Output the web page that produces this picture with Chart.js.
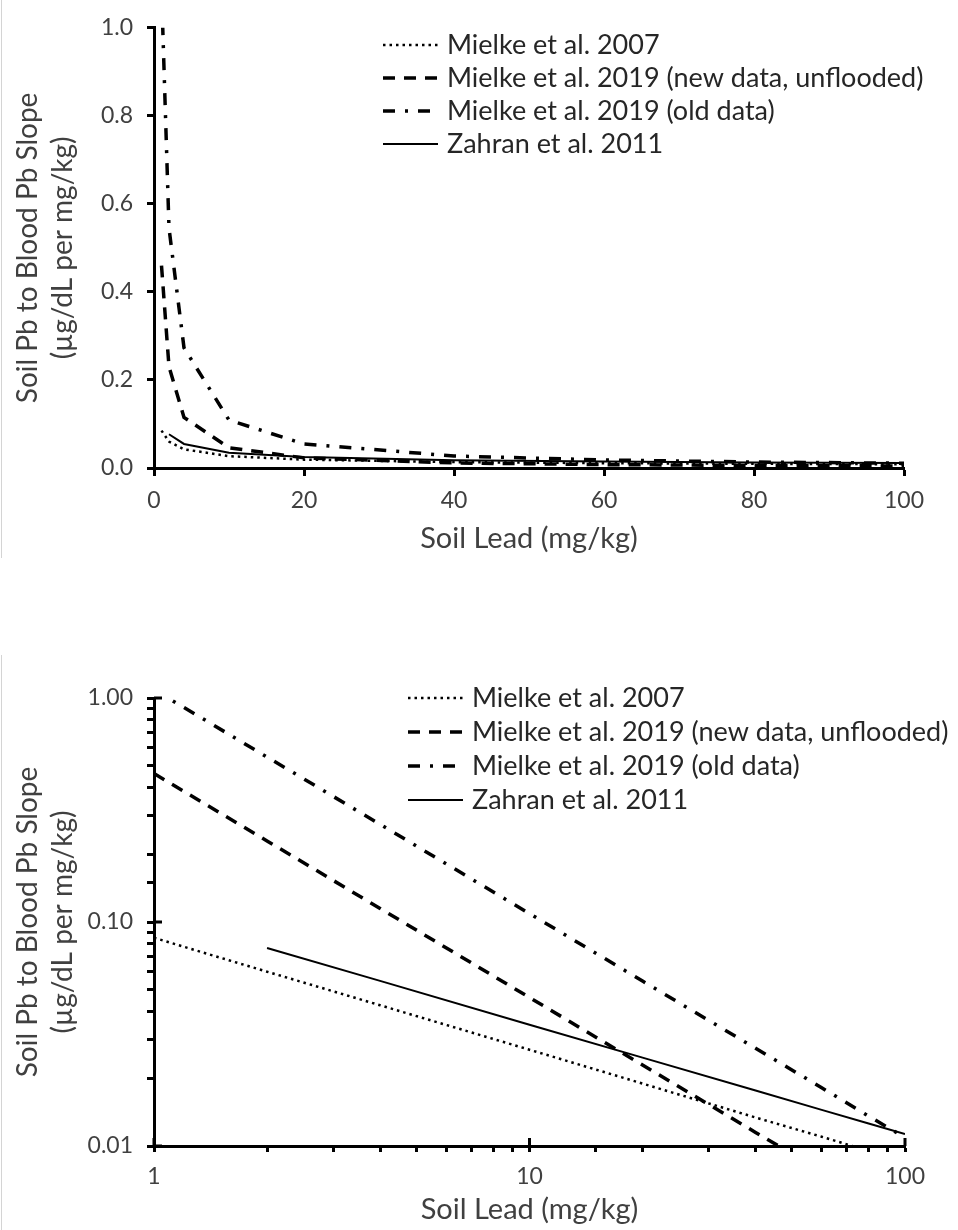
<!DOCTYPE html>
<html>
<head>
<meta charset="utf-8">
<title>Soil Pb to Blood Pb Slope</title>
<script src="https://cdn.jsdelivr.net/npm/chart.js@4.4.1/dist/chart.umd.min.js"></script>
<style>
  body { margin: 0; background: #fff; }
  .panel { position: absolute; left: 0; width: 958px; }
  .edge { position: absolute; left: 1px; width: 1px; background: #d4d4d4; }
</style>
</head>
<body>
<div class="edge" style="top:0;height:558px"></div>
<div class="panel" style="top:0;height:558px"><canvas id="linearChart" width="958" height="558"></canvas></div>
<div class="edge" style="top:655px;height:575px"></div>
<div class="panel" style="top:655px;height:575px"><canvas id="logChart" width="958" height="575"></canvas></div>

<script>
// Soil lead (mg/kg) and modelled slope (ug/dL per mg/kg) for each study
const soilLead = [1, 2, 4, 10, 20, 40, 60, 80, 100];
const mielke2007 = [0.085, 0.060, 0.0425, 0.0269, 0.0190, 0.0134, 0.0110, 0.0095, 0.0085];
const mielke2019New = [0.46, 0.23, 0.115, 0.046, 0.023, 0.0115, 0.0077, 0.0058, 0.0046];
const mielke2019Old = [1.09, 0.545, 0.273, 0.109, 0.0545, 0.0273, 0.0182, 0.0136, 0.0109];
const zahran2011 = [null, 0.0766, 0.0546, 0.0348, 0.0248, 0.0177, 0.0145, 0.0126, 0.0113];

const seriesLabels = [
    'Mielke et al. 2007',
    'Mielke et al. 2019 (new data, unflooded)',
    'Mielke et al. 2019 (old data)',
    'Zahran et al. 2011'
];

const xTitle = 'Soil Lead (mg/kg)';
const yTitle = ['Soil Pb to Blood Pb Slope', '(\u00b5g/dL per mg/kg)'];

Chart.defaults.font.family = 'Lato, "Open Sans", sans-serif';
Chart.defaults.color = '#404040';

function points(values) {
    return soilLead.map((x, i) => ({ x: x, y: values[i] })).filter(p => p.y !== null);
}

function buildDatasets() {
    const styles = [
        { borderWidth: 2.5, borderDash: [2.5, 4] },
        { borderWidth: 3.5, borderDash: [12, 9] },
        { borderWidth: 3.5, borderDash: [12, 10, 3, 10] },
        { borderWidth: 2, borderDash: [] }
    ];
    return [mielke2007, mielke2019New, mielke2019Old, zahran2011].map((vals, i) => ({
        label: seriesLabels[i],
        data: points(vals),
        borderColor: '#000',
        borderWidth: styles[i].borderWidth,
        borderDash: styles[i].borderDash,
        borderCapStyle: 'butt',
        pointRadius: 0,
        fill: false,
        tension: 0
    }));
}

// Legend drawn as line samples next to text, inside the plot
const lineLegend = {
    id: 'lineLegend',
    afterDraw(chart, args, opts) {
        const ctx = chart.ctx;
        chart.data.datasets.forEach((ds, i) => {
            const y = opts.top + i * opts.step;
            ctx.save();
            ctx.strokeStyle = ds.borderColor;
            ctx.lineWidth = ds.borderWidth;
            ctx.setLineDash(ds.borderDash);
            ctx.beginPath();
            ctx.moveTo(opts.x0, y);
            ctx.lineTo(opts.x1, y);
            ctx.stroke();
            ctx.setLineDash([]);
            ctx.fillStyle = '#262626';
            ctx.font = opts.font;
            ctx.textBaseline = 'middle';
            ctx.fillText(ds.label, opts.textX, y);
            ctx.restore();
        });
    }
};

// Major ticks on the log axes cross into the plot as well
const innerTicks = {
    id: 'innerTicks',
    afterDraw(chart, args, opts) {
        if (!opts.enabled) return;
        const ctx = chart.ctx;
        const area = chart.chartArea;
        const xs = chart.scales.x, ys = chart.scales.y;
        ctx.save();
        ctx.strokeStyle = '#000';
        ctx.lineWidth = 3;
        ctx.beginPath();
        opts.xMajor.forEach(v => {
            const px = xs.getPixelForValue(v);
            ctx.moveTo(px, area.bottom);
            ctx.lineTo(px, area.bottom - opts.len);
        });
        opts.yMajor.forEach(v => {
            const py = ys.getPixelForValue(v);
            ctx.moveTo(area.left, py);
            ctx.lineTo(area.left + opts.len, py);
        });
        ctx.stroke();
        ctx.restore();
    }
};

function isPowerOfTen(v) {
    const l = Math.log10(v);
    return Math.abs(l - Math.round(l)) < 1e-9;
}

function axisOptions(kind, cfg) {
    const log = kind === 'logarithmic';
    return {
        x: {
            type: kind,
            min: log ? 1 : 0,
            max: 100,
            afterFit: s => { s.height = cfg.xHeight; },
            border: { display: true, color: '#000', width: 3 },
            grid: { display: true, drawOnChartArea: false, drawTicks: true, tickLength: cfg.xTick, tickWidth: 3, tickColor: '#000' },
            ticks: {
                autoSkip: false,
                maxRotation: 0,
                padding: 11,
                stepSize: log ? undefined : 20,
                font: { size: 23 },
                color: '#404040',
                callback: v => log ? (isPowerOfTen(v) ? String(Math.round(v)) : '') : String(v)
            },
            title: { display: true, text: xTitle, font: { size: 29 }, color: '#404040', padding: { top: 0, bottom: cfg.xTitlePad } }
        },
        y: {
            type: kind,
            min: log ? 0.01 : 0,
            max: 1,
            afterFit: s => { s.width = 154; },
            border: { display: true, color: '#000', width: 3 },
            grid: { display: true, drawOnChartArea: false, drawTicks: true, tickLength: 7, tickWidth: 3, tickColor: '#000' },
            ticks: {
                autoSkip: false,
                padding: 14,
                stepSize: log ? undefined : 0.2,
                font: { size: 23 },
                color: '#404040',
                callback: v => log ? (isPowerOfTen(v) ? v.toFixed(2) : '') : v.toFixed(1)
            },
            title: { display: true, text: yTitle, font: { size: 28, lineHeight: 1.25 }, color: '#404040', padding: { top: 10, bottom: 0 } }
        }
    };
}

// Linear axes
new Chart(document.getElementById('linearChart'), {
    type: 'line',
    data: { datasets: buildDatasets() },
    options: {
        responsive: false,
        animation: false,
        devicePixelRatio: 1,
        layout: { padding: { left: 0, right: 54, top: 23, bottom: 0 } },
        plugins: {
            legend: { display: false },
            tooltip: { enabled: false },
            lineLegend: { x0: 383, x1: 438, textX: 447, top: 45, step: 33, font: '27px Lato' },
            innerTicks: { enabled: false }
        },
        scales: axisOptions('linear', { xHeight: 90, xTick: 8, xTitlePad: 2 })
    },
    plugins: [lineLegend, innerTicks]
});

// Log-log axes
new Chart(document.getElementById('logChart'), {
    type: 'line',
    data: { datasets: buildDatasets() },
    options: {
        responsive: false,
        animation: false,
        devicePixelRatio: 1,
        layout: { padding: { left: 0, right: 53, top: 43, bottom: 0 } },
        plugins: {
            legend: { display: false },
            tooltip: { enabled: false },
            lineLegend: { x0: 408, x1: 463, textX: 472, top: 43, step: 34, font: '27px Lato' },
            innerTicks: { enabled: true, len: 8, xMajor: [1, 10, 100], yMajor: [0.01, 0.1, 1] }
        },
        scales: axisOptions('logarithmic', { xHeight: 84, xTick: 6, xTitlePad: 3 })
    },
    plugins: [lineLegend, innerTicks]
});
</script>
</body>
</html>
